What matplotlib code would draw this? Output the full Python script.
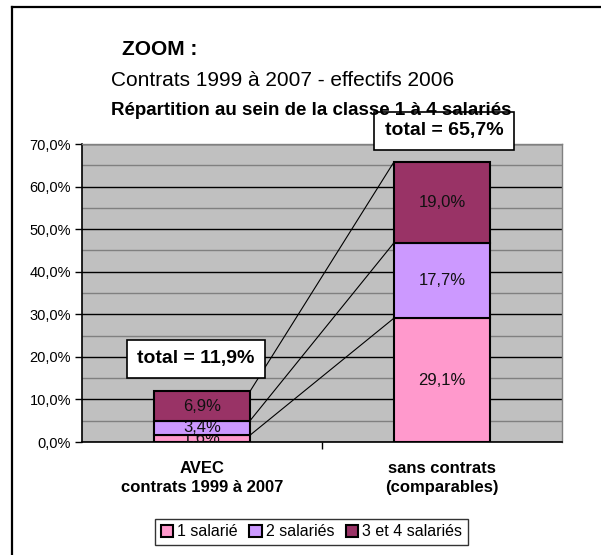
import matplotlib
matplotlib.use("Agg")
from matplotlib import pyplot as plt
from matplotlib.lines import Line2D
from matplotlib.ticker import MultipleLocator, FuncFormatter
import numpy as np

plt.rcParams['font.family'] = ['Liberation Sans', 'DejaVu Sans']

# data
categories = ["AVEC\ncontrats 1999 à 2007", "sans contrats\n(comparables)"]
series_names = ["1 salarié", "2 salariés", "3 et 4 salariés"]
un_salarie = [1.6, 29.1]
deux_salaries = [3.4, 17.7]
trois_quatre = [6.9, 19.0]
totals = [11.9, 65.7]
colors = ["#FF99CC", "#CC99FF", "#993366"]

W, H = 601, 555
fig = plt.figure(figsize=(W / 100, H / 100), dpi=100)
ax = fig.add_axes([82 / W, 1 - 442 / H, 480 / W, 298 / H])
ax.set_facecolor("#C0C0C0")

x = np.arange(len(categories))
width = 0.4
series = [un_salarie, deux_salaries, trois_quatre]
bottom = np.zeros(len(categories))
tops = []
for i, (vals, col, name) in enumerate(zip(series, colors, series_names)):
    vals = np.array(vals)
    ax.bar(x, vals, width, bottom=bottom, color=col, edgecolor="black",
           linewidth=1.5, label=name, zorder=3 + i)
    for xi, b, v in zip(x, bottom, vals):
        ax.text(xi, b + v / 2, ("%.1f%%" % v).replace(".", ","), ha="center",
                va="center", fontsize=12, color="#111111", zorder=3.5 + i,
                clip_on=True)
    bottom = bottom + vals
    tops.append(bottom.copy())

# series lines between the two stacks
for t in tops:
    ax.plot([x[0] + width / 2, x[1] - width / 2], [t[0], t[1]], color="black",
            linewidth=0.8, zorder=2.5)

ax.set_xlim(-0.5, 1.5)
ax.set_ylim(0, 70)
ax.yaxis.set_major_locator(MultipleLocator(10))
ax.yaxis.set_minor_locator(MultipleLocator(5))
ax.yaxis.set_major_formatter(FuncFormatter(lambda v, p: ("%.1f%%" % v).replace(".", ",")))
ax.grid(axis="y", which="major", color="black", linewidth=1, zorder=1)
ax.grid(axis="y", which="minor", color="#808080", linewidth=1, zorder=1)
ax.set_axisbelow(True)
ax.tick_params(axis="y", which="major", labelsize=10.5, length=5, width=1, pad=3)
ax.tick_params(axis="y", which="minor", length=0)

ax.set_xticks(x)
ax.set_xticklabels(categories, fontsize=12, fontweight="bold", linespacing=1.3)
ax.set_xticks([0.5], minor=True)
ax.tick_params(axis="x", which="major", length=0, pad=14)
ax.tick_params(axis="x", which="minor", length=5, width=1)

for s in ["left", "bottom"]:
    ax.spines[s].set_color("black")
    ax.spines[s].set_linewidth(1.2)
for s in ["top", "right"]:
    ax.spines[s].set_color("#808080")
    ax.spines[s].set_linewidth(1)

# total boxes
box = dict(boxstyle="square,pad=0.55", facecolor="white", edgecolor="black", linewidth=1.2)
ax.text(-0.025, 19.5, "total = " + ("%.1f%%" % totals[0]).replace(".", ","),
        ha="center", va="center", fontsize=14, fontweight="bold", bbox=box,
        zorder=10)
ax.text(1.008, 73.1, "total = " + ("%.1f%%" % totals[1]).replace(".", ","),
        ha="center", va="center", fontsize=14, fontweight="bold", bbox=box,
        zorder=10, clip_on=False)

# titles
fig.text(122 / W, 1 - 55 / H, "ZOOM :", fontsize=15, fontweight="bold", va="baseline")
fig.text(111 / W, 1 - 86 / H, "Contrats 1999 à 2007 - effectifs 2006", fontsize=15,
         va="baseline")
fig.text(111 / W, 1 - 115 / H, "Répartition au sein de la classe 1 à 4 salariés",
         fontsize=13.5, fontweight="bold", va="baseline")

# legend
leg = fig.legend(loc="center", bbox_to_anchor=(311.5 / W, 1 - 532 / H), ncol=3,
                 fontsize=11.5, frameon=True, fancybox=False, handlelength=0.8,
                 handleheight=0.8, handletextpad=0.25, columnspacing=0.7,
                 borderpad=0.35, borderaxespad=0)
leg.get_frame().set_edgecolor("black")
leg.get_frame().set_linewidth(1)

# outer frame (only top and left visible)
fig.add_artist(Line2D([12 / W, 1], [1 - 7 / H, 1 - 7 / H], color="black", linewidth=1.6))
fig.add_artist(Line2D([12 / W, 12 / W], [0, 1 - 7 / H], color="black", linewidth=1.6))

fig.savefig("out.png", dpi=100, facecolor="white")
